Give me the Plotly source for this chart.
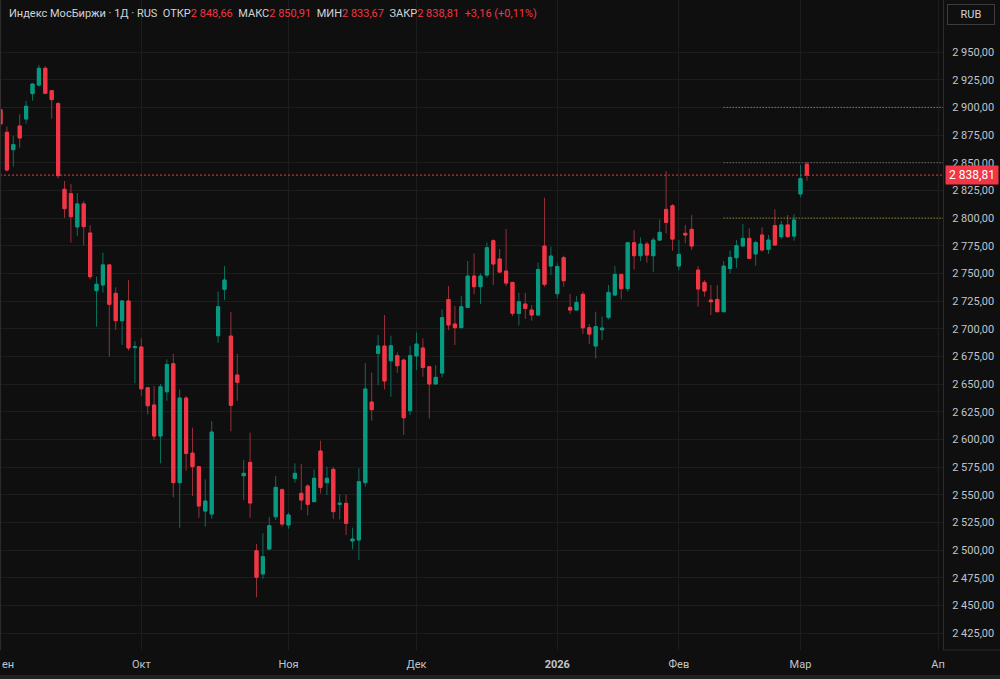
import plotly.graph_objects as go

# ---- data (index MOEX, daily candles) ----
opens = [2898.0, 2877.5, 2861.8, 2883.2, 2889.5, 2912.4, 2920.2, 2935.3, 2915.1, 2903.4,
         2826.0, 2822.1, 2792.0, 2812.8, 2786.5, 2734.4, 2739.6, 2757.7, 2732.0, 2707.3,
         2725.1, 2683.0, 2683.5, 2646.7, 2631.1, 2603.1, 2643.1, 2668.4, 2561.0, 2637.4,
         2587.7, 2575.4, 2535.3, 2532.6, 2693.7, 2735.6, 2693.4, 2658.2, 2567.3, 2579.3,
         2499.5, 2478.5, 2501.0, 2530.2, 2554.6, 2522.7, 2564.9, 2551.3, 2557.9, 2543.8,
         2589.6, 2561.0, 2573.0, 2541.4, 2542.3, 2508.3, 2509.2, 2561.0, 2633.8, 2677.8,
         2684.4, 2671.1, 2675.7, 2671.7, 2626.0, 2675.4, 2682.6, 2665.7, 2650.1, 2660.0,
         2726.5, 2704.3, 2701.0, 2719.3, 2747.6, 2738.0, 2748.5, 2779.5, 2763.0, 2752.1,
         2741.9, 2713.9, 2722.3, 2716.9, 2712.4, 2774.7, 2756.7, 2731.7, 2764.2, 2719.3,
         2716.9, 2731.1, 2700.9, 2684.4, 2699.1, 2710.3, 2730.5, 2749.1, 2736.2, 2777.7,
         2766.0, 2776.5, 2766.0, 2780.1, 2807.8, 2811.1, 2756.7, 2786.2, 2789.8, 2753.0,
         2741.9, 2725.9, 2726.5, 2715.4, 2754.5, 2764.2, 2774.8, 2781.7, 2767.6, 2784.7,
         2771.8, 2793.2, 2783.2, 2793.8, 2783.8, 2821.8, 2848.66]
highs = [2924.0, 2882.6, 2874.2, 2893.7, 2905.8, 2921.5, 2938.3, 2937.4, 2915.1, 2904.6,
         2833.5, 2830.8, 2822.7, 2815.5, 2793.5, 2747.1, 2768.8, 2758.5, 2737.5, 2726.0,
         2744.1, 2688.9, 2691.3, 2647.5, 2648.3, 2650.1, 2672.3, 2677.2, 2645.2, 2639.2,
         2610.6, 2576.0, 2563.9, 2616.6, 2733.5, 2756.6, 2715.1, 2677.2, 2581.5, 2606.1,
         2505.6, 2515.2, 2529.9, 2567.0, 2555.8, 2533.9, 2578.4, 2577.8, 2559.5, 2573.0,
         2598.9, 2575.4, 2575.4, 2550.4, 2550.4, 2520.3, 2573.9, 2668.8, 2660.3, 2694.3,
         2712.4, 2693.7, 2678.7, 2673.2, 2684.7, 2696.7, 2691.3, 2665.7, 2667.2, 2717.5,
         2738.6, 2720.5, 2729.5, 2761.2, 2768.1, 2750.0, 2778.0, 2780.7, 2772.0, 2790.1,
         2741.9, 2732.6, 2732.6, 2721.4, 2759.7, 2818.4, 2774.1, 2759.1, 2766.0, 2731.4,
         2729.5, 2733.5, 2704.3, 2715.4, 2710.9, 2739.5, 2756.6, 2749.1, 2777.7, 2789.2,
         2782.5, 2778.6, 2782.5, 2798.8, 2842.5, 2812.7, 2780.1, 2793.7, 2802.7, 2756.6,
         2744.0, 2739.5, 2739.5, 2761.2, 2770.6, 2780.2, 2794.7, 2790.7, 2779.6, 2791.6,
         2784.7, 2807.9, 2797.4, 2802.8, 2803.4, 2848.0, 2850.91]
lows = [2884.0, 2842.0, 2846.4, 2863.6, 2885.3, 2906.1, 2918.7, 2912.1, 2889.8, 2835.9,
        2800.1, 2777.8, 2783.9, 2775.4, 2744.7, 2701.9, 2732.7, 2674.8, 2698.9, 2685.4,
        2680.3, 2650.7, 2639.5, 2622.7, 2599.5, 2578.4, 2635.0, 2547.7, 2520.3, 2571.8,
        2548.9, 2529.3, 2521.2, 2528.4, 2687.4, 2725.9, 2607.3, 2635.0, 2545.3, 2529.3,
        2457.4, 2474.0, 2500.1, 2527.2, 2521.2, 2519.4, 2561.0, 2536.3, 2531.5, 2543.8,
        2551.3, 2549.8, 2528.1, 2527.8, 2513.7, 2500.7, 2491.1, 2557.4, 2616.9, 2649.2,
        2645.2, 2638.6, 2660.3, 2604.0, 2622.1, 2662.7, 2656.7, 2619.0, 2650.1, 2656.1,
        2698.8, 2685.3, 2701.0, 2719.3, 2731.1, 2722.3, 2746.1, 2739.5, 2751.2, 2738.6,
        2711.5, 2702.8, 2708.8, 2707.3, 2712.4, 2738.0, 2748.5, 2727.4, 2738.0, 2713.3,
        2716.9, 2695.2, 2686.2, 2673.2, 2689.8, 2708.5, 2729.6, 2726.5, 2733.5, 2753.6,
        2761.2, 2759.7, 2751.5, 2780.1, 2786.2, 2770.5, 2753.0, 2777.1, 2771.1, 2719.9,
        2729.0, 2712.4, 2715.4, 2715.4, 2750.0, 2755.0, 2774.2, 2763.6, 2757.0, 2769.7,
        2767.6, 2775.1, 2780.8, 2782.3, 2779.6, 2818.7, 2833.67]
closes = [2885.0, 2843.4, 2866.3, 2872.4, 2901.0, 2921.1, 2935.3, 2912.7, 2907.0, 2838.3,
          2808.5, 2801.3, 2812.8, 2792.3, 2747.1, 2740.2, 2757.7, 2722.1, 2707.3, 2725.1,
          2682.7, 2683.8, 2645.8, 2630.5, 2603.1, 2647.6, 2667.8, 2561.0, 2637.4, 2587.4,
          2575.4, 2539.9, 2544.4, 2606.7, 2719.9, 2744.0, 2630.8, 2651.6, 2569.4, 2542.6,
          2475.5, 2494.1, 2522.1, 2556.7, 2523.6, 2531.8, 2569.4, 2545.3, 2541.4, 2564.9,
          2556.7, 2564.9, 2534.8, 2542.3, 2524.2, 2510.1, 2561.9, 2645.6, 2626.9, 2684.4,
          2652.8, 2684.7, 2666.6, 2619.6, 2675.7, 2686.2, 2665.1, 2650.1, 2656.1, 2710.0,
          2703.4, 2701.0, 2719.9, 2747.6, 2738.0, 2747.6, 2773.2, 2758.5, 2751.2, 2741.3,
          2713.9, 2724.4, 2718.4, 2712.4, 2753.6, 2740.1, 2765.7, 2756.3, 2743.4, 2716.9,
          2723.8, 2700.9, 2695.2, 2701.9, 2700.6, 2732.9, 2749.1, 2736.2, 2777.7, 2766.0,
          2776.5, 2766.6, 2780.1, 2787.1, 2796.1, 2781.0, 2767.2, 2784.7, 2774.7, 2735.9,
          2734.1, 2724.4, 2715.4, 2756.6, 2764.5, 2775.1, 2781.7, 2763.6, 2777.8, 2771.2,
          2780.2, 2775.7, 2793.8, 2783.2, 2798.3, 2835.65, 2838.81]

bar_index = list(range(len(closes)))

# month gridlines / labels (first bar of each month); the September label is cut by the edge
month_tick_idx = [0, 22, 45, 65, 87, 106, 125, 146.5]
month_labels = ["", "Окт", "Ноя", "Дек", "<b>2026</b>", "Фев", "Мар", "Ап"]
edge_label = "ен"

price_ticks = [2425 + 25 * k for k in range(22)]

ray_levels = [2900, 2850, 2800]
ray_colors = ["#c9b22e", "#8c8c8c", "#c9b22e"]
ray_start_idx = 113

title_name = "Индекс МосБиржи · 1Д · RUS"
currency = "RUB"

# ---- styles ----
BG = "#0f0f0f"
GRID = "#1d1d1d"
BORDER = "#2b2b2b"
TXT = "#c2c4ca"
UP = "#089981"
DOWN = "#F23645"
UP_WICK = "#0b6e5d"
DOWN_WICK = "#96303a"
FONT = "Roboto, Noto Sans, sans-serif"

X_RANGE = [-0.078, 147.27]


def fmt(v):
    s = f"{v:,.2f}"
    return s.replace(",", " ").replace(".", ",")


body_hi = [max(o, c) for o, c in zip(opens, closes)]
body_lo = [min(o, c) for o, c in zip(opens, closes)]

fig = go.Figure()
# wicks
fig.add_trace(go.Candlestick(
    x=bar_index, open=opens, high=highs, low=lows, close=closes,
    increasing=dict(line=dict(color=UP_WICK, width=1), fillcolor=UP),
    decreasing=dict(line=dict(color=DOWN_WICK, width=1), fillcolor=DOWN),
    hoverinfo="skip", showlegend=False,
))
# bodies
fig.add_trace(go.Candlestick(
    x=bar_index, open=opens, high=body_hi, low=body_lo, close=closes,
    increasing=dict(line=dict(color=UP, width=1), fillcolor=UP),
    decreasing=dict(line=dict(color=DOWN, width=1), fillcolor=DOWN),
    hoverinfo="skip", showlegend=False,
))

last_o, last_h, last_l, last_c = opens[-1], highs[-1], lows[-1], closes[-1]
chg = last_c - closes[-2]
pct = chg / closes[-2] * 100
chg_txt = ("+" if chg >= 0 else "") + f"{chg:.2f}".replace(".", ",") + \
    " (" + ("+" if pct >= 0 else "") + f"{pct:.2f}".replace(".", ",") + "%)"


def red(t):
    return f'<span style="color:{DOWN}">{t}</span>'


sp = "\u00a0\u00a0"
header = (title_name + sp + "ОТКР" + red(fmt(last_o)) + sp + "МАКС" + red(fmt(last_h)) + sp +
          "МИН" + red(fmt(last_l)) + sp + "ЗАКР" + red(fmt(last_c)) + sp + red(chg_txt))

PLOT_W = 943.0
PLOT_H = 650.0

shapes = []
# last price line
shapes.append(dict(type="line", xref="paper", x0=0, x1=1, yref="y", y0=last_c, y1=last_c,
                   line=dict(color=DOWN, width=1, dash="2px,2px"), layer="above"))
for lv, col in zip(ray_levels, ray_colors):
    shapes.append(dict(type="line", xref="x", x0=ray_start_idx, x1=X_RANGE[1], yref="y", y0=lv, y1=lv,
                       line=dict(color=col, width=1, dash="1px,2px"), layer="above"))
# left border
shapes.append(dict(type="line", xref="paper", x0=0.0006, x1=0.0006, yref="paper", y0=0, y1=1,
                   line=dict(color="#2e2e2e", width=1)))
# price scale bottom border
shapes.append(dict(type="line", xref="paper", x0=1, x1=1000 / PLOT_W, yref="paper", y0=0, y1=0,
                   line=dict(color=BORDER, width=1)))
# bottom strip
shapes.append(dict(type="rect", xref="paper", x0=0, x1=1000 / PLOT_W, yref="paper",
                   y0=-(675 - PLOT_H) / PLOT_H, y1=-(680 - PLOT_H) / PLOT_H,
                   fillcolor="#222222", line=dict(width=0)))

annotations = [
    dict(text=header, xref="paper", yref="paper", x=7 / PLOT_W, y=1 - 14 / PLOT_H,
         xanchor="left", yanchor="middle", showarrow=False,
         font=dict(family=FONT, size=11, color="#d1d4dc")),
    dict(text=fmt(last_c), xref="paper", yref="y", x=1 + 2 / PLOT_W, y=last_c,
         xanchor="left", yanchor="middle", showarrow=False, bgcolor=DOWN,
         width=48, height=14, borderpad=2, align="center",
         font=dict(family=FONT, size=12, color="#ffffff")),
    dict(text=currency, xref="paper", yref="paper", x=971 / PLOT_W, y=1 - 14.5 / PLOT_H,
         xanchor="center", yanchor="middle", showarrow=False, bgcolor=BG,
         bordercolor="#3c3c3c", borderwidth=1, borderpad=1, width=44, height=17,
         font=dict(family=FONT, size=11, color="#d1d4dc")),
    dict(text=edge_label, xref="paper", yref="paper", x=0, y=-(664 - PLOT_H) / PLOT_H,
         xanchor="left", yanchor="middle", showarrow=False,
         font=dict(family=FONT, size=11, color=TXT)),
]

fig.update_layout(
    width=1000, height=679, autosize=False,
    margin=dict(l=0, r=57, t=0, b=29, pad=0, autoexpand=False),
    paper_bgcolor=BG, plot_bgcolor=BG,
    showlegend=False, separators=", ",
    hovermode=False,
    xaxis=dict(range=X_RANGE, tickmode="array", tickvals=month_tick_idx, ticktext=month_labels,
               showgrid=True, gridcolor=GRID, gridwidth=1, zeroline=False, showline=False, ticks="",
               tickfont=dict(family=FONT, size=11, color=TXT), rangeslider=dict(visible=False),
               fixedrange=True, ticklabelstandoff=6, ticklabeloverflow="allow", automargin=False),
    yaxis=dict(side="right", range=[2409.8, 2997.0], tickmode="array", tickvals=price_ticks,
               tickformat=",.2f", showgrid=True, gridcolor=GRID, gridwidth=1, zeroline=False,
               showline=True, linecolor=BORDER, linewidth=1, ticks="",
               tickfont=dict(family=FONT, size=11, color=TXT), fixedrange=True,
               ticklabelstandoff=6, ticklabeloverflow="allow", automargin=False),
    shapes=shapes, annotations=annotations,
)

fig.write_html("out.html", config={"displayModeBar": False, "responsive": False},
               post_script="document.body.style.margin='0';document.body.style.padding='0';"
                           "document.body.style.overflow='hidden';")
